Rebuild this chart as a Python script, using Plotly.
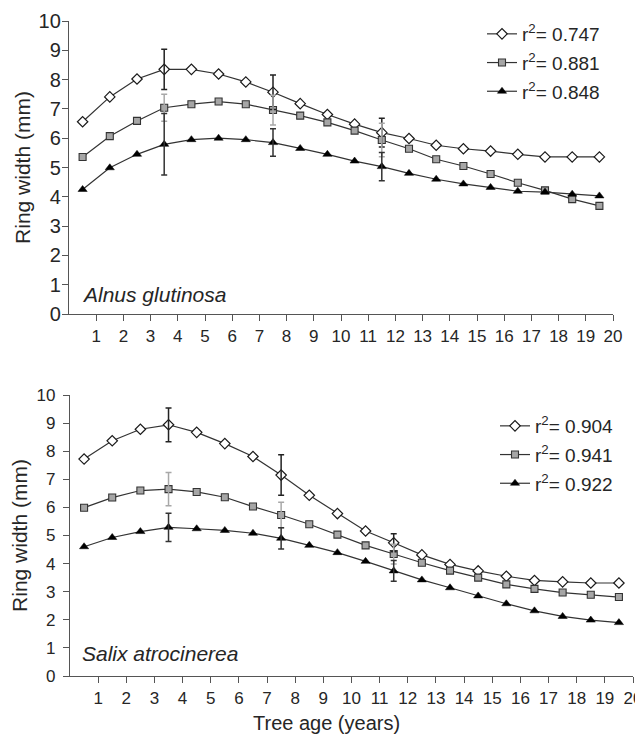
import plotly.graph_objects as go

# ---------------- data ----------------
age = [i + 0.5 for i in range(20)]
tick_vals = list(range(1, 21))
tick_text = [str(v) for v in tick_vals]
y_ticks = list(range(0, 11))

# Alnus glutinosa
alnus_diamond = [6.56, 7.41, 8.02, 8.35, 8.35, 8.19, 7.92, 7.57, 7.18, 6.81,
                 6.48, 6.19, 5.99, 5.76, 5.64, 5.56, 5.45, 5.36, 5.36, 5.36]
alnus_square = [5.36, 6.07, 6.59, 7.04, 7.16, 7.25, 7.16, 6.96, 6.77, 6.54,
                6.26, 5.94, 5.64, 5.28, 5.05, 4.78, 4.48, 4.22, 3.92, 3.69]
alnus_triangle = [4.25, 4.99, 5.45, 5.79, 5.95, 6.00, 5.95, 5.85, 5.65, 5.45,
                  5.22, 5.03, 4.80, 4.60, 4.44, 4.32, 4.19, 4.16, 4.09, 4.03]
alnus_r2 = ["0.747", "0.881", "0.848"]

# Salix atrocinerea
salix_diamond = [7.72, 8.37, 8.78, 8.94, 8.67, 8.27, 7.81, 7.15, 6.43, 5.78,
                 5.16, 4.74, 4.31, 3.97, 3.74, 3.55, 3.40, 3.35, 3.31, 3.31]
salix_square = [5.99, 6.35, 6.60, 6.65, 6.55, 6.36, 6.03, 5.73, 5.40, 5.03,
                4.65, 4.34, 4.03, 3.75, 3.50, 3.26, 3.10, 2.97, 2.89, 2.81]
salix_triangle = [4.60, 4.93, 5.14, 5.29, 5.24, 5.18, 5.08, 4.90, 4.65, 4.39,
                  4.08, 3.74, 3.42, 3.14, 2.85, 2.57, 2.32, 2.12, 1.99, 1.90]
salix_r2 = ["0.904", "0.941", "0.922"]

# error bars (at ages index 3, 7, 11)
err_idx = [3, 7, 11]
alnus_err_diamond = [0.69, 0.59, 0.49]
alnus_err_square = [0.46, 0.51, 0.57]
alnus_err_triangle = [1.05, 0.47, 0.48]
salix_err_diamond = [0.60, 0.72, 0.32]
salix_err_square = [0.59, 0.45, 0.35]
salix_err_triangle = [0.50, 0.38, 0.37]

FONT = "Liberation Sans, Arial, sans-serif"
TXT = "#262626"
LINE = "#333333"

# page body has an 8px margin: figure pixel = window pixel - 8
OFF = 8
W, H = 643 - OFF, 736 - OFF


def px(xw):
    return (xw - OFF) / W


def py(yw):
    return 1 - (yw - OFF) / H


styles = [
    dict(symbol="diamond", size=8, color="white", line=dict(color="#1a1a1a", width=1.2)),
    dict(symbol="square", size=7, color="#a6a6a6", line=dict(color="#333333", width=1.1)),
    dict(symbol="triangle-up", size=8, color="black", line=dict(color="black", width=0.5)),
]
err_colors = ["#222222", "#a8a8a8", "#333333"]

fig = go.Figure()

panels = [
    ("x", "y", "legend", [alnus_diamond, alnus_square, alnus_triangle], alnus_r2,
     [alnus_err_diamond, alnus_err_square, alnus_err_triangle]),
    ("x2", "y2", "legend2", [salix_diamond, salix_square, salix_triangle], salix_r2,
     [salix_err_diamond, salix_err_square, salix_err_triangle]),
]

for xa, ya, lg, series, r2s, errs in panels:
    for k, (vals, r2) in enumerate(zip(series, r2s)):
        fig.add_trace(go.Scatter(
            x=age, y=vals, mode="lines+markers", xaxis=xa, yaxis=ya,
            line=dict(color=LINE, width=1.2), marker=styles[k],
            name="r<sup>2</sup>= " + r2, legend=lg, legendgroup=lg + str(k),
            cliponaxis=False,
        ))
    for k, (vals, e) in enumerate(zip(series, errs)):
        fig.add_trace(go.Scatter(
            x=[age[i] for i in err_idx], y=[vals[i] for i in err_idx],
            mode="markers", xaxis=xa, yaxis=ya, showlegend=False,
            marker=dict(size=1, opacity=0),
            error_y=dict(type="data", array=e, visible=True, color=err_colors[k],
                         thickness=1.5, width=3),
        ))


def axis_style(tick_size, standoff=0):
    return dict(
        showgrid=False, zeroline=False, showline=True, linecolor="#555555", linewidth=1.3,
        ticks="outside", ticklen=6, tickwidth=1.2, tickcolor="#555555",
        tickfont=dict(family=FONT, size=tick_size, color=TXT), automargin=False,
        ticklabelstandoff=standoff,
    )


fig.update_layout(
    width=W, height=H,
    paper_bgcolor="white", plot_bgcolor="white",
    margin=dict(l=0, r=0, t=0, b=0),
    showlegend=True,
    xaxis=dict(domain=[px(69), px(613)], range=[0, 20], anchor="y",
               tickvals=tick_vals, ticktext=tick_text, **axis_style(17)),
    yaxis=dict(domain=[py(314), py(21)], range=[0, 10], anchor="x",
               tickvals=y_ticks,
               title=dict(text="Ring width (mm)", font=dict(family=FONT, size=21, color=TXT),
                          standoff=2),
               **axis_style(20, -3)),
    xaxis2=dict(domain=[px(70), px(633)], range=[0, 20], anchor="y2",
                tickvals=tick_vals, ticktext=tick_text, **axis_style(17)),
    yaxis2=dict(domain=[py(676), py(395)], range=[0, 10], anchor="x2",
                tickvals=y_ticks,
                title=dict(text="Ring width (mm)", font=dict(family=FONT, size=21, color=TXT),
                           standoff=3),
                **axis_style(17, 4)),
    legend=dict(x=px(482), y=py(15), xanchor="left", yanchor="top",
                bgcolor="rgba(0,0,0,0)", font=dict(family=FONT, size=19, color=TXT),
                tracegroupgap=1, itemwidth=30),
    legend2=dict(x=px(495), y=py(407), xanchor="left", yanchor="top",
                 bgcolor="rgba(0,0,0,0)", font=dict(family=FONT, size=19, color=TXT),
                 tracegroupgap=1, itemwidth=30),
    annotations=[
        dict(text="<i>Alnus glutinosa</i>", x=px(80), y=py(295), xref="paper", yref="paper",
             xanchor="left", yanchor="middle", showarrow=False,
             font=dict(family=FONT, size=21, color=TXT)),
        dict(text="<i>Salix atrocinerea</i>", x=px(80), y=py(653), xref="paper", yref="paper",
             xanchor="left", yanchor="middle", showarrow=False,
             font=dict(family=FONT, size=21, color=TXT)),
        dict(text="Tree age (years)", x=px(326), y=py(723), xref="paper", yref="paper",
             xanchor="center", yanchor="middle", showarrow=False,
             font=dict(family=FONT, size=20, color=TXT)),
    ],
)

fig.write_html("out.html")
